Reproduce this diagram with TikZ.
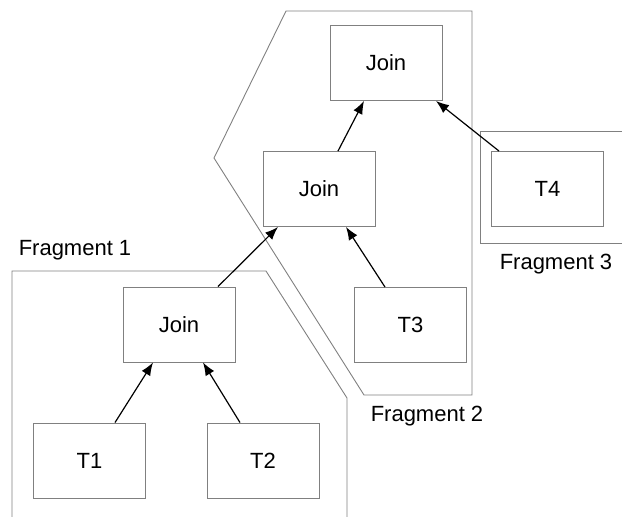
\documentclass[tikz,border=0pt]{standalone}
\usepackage{fontspec}
\setmainfont{Liberation Sans}
\usetikzlibrary{arrows.meta}
\begin{document}
\begin{tikzpicture}[x=1pt,y=-1pt,
  opbox/.style={draw=black!50, line width=0.9pt, minimum width=112pt, minimum height=75pt,
    inner sep=0pt, font=\fontsize{22}{26}\selectfont},
  frag/.style={draw=black!50, line width=0.9pt},
  fraglabel/.style={font=\fontsize{22}{26}\selectfont, inner sep=0pt},
  flow/.style={draw=black, line width=1.2pt, -{Latex[length=13pt,width=10pt]}}]
  \useasboundingbox (0,0) rectangle (622,517);

  % fragment outlines
  \draw[frag] (12,517) -- (12,271) -- (266,271) -- (347,398) -- (347,517);
  \draw[frag] (286,11) -- (472,11) -- (472,395) -- (364,395) -- (214,158) -- cycle;
  \draw[frag] (622,131) -- (480,131) -- (480,243) -- (622,243);

  % fragment labels
  \node[fraglabel] (f1) at (75,250) {Fragment 1};
  \node[fraglabel] (f2) at (427,416) {Fragment 2};
  \node[fraglabel] (f3) at (556,264) {Fragment 3};

  % operators
  \node[opbox] (jtop) at (386,63) {Join};
  \node[opbox] (jmid) at (319,189) {Join};
  \node[opbox] (jlow) at (179,324.5) {Join};
  \node[opbox] (t1) at (89.5,460.5) {T1};
  \node[opbox] (t2) at (263,460.5) {T2};
  \node[opbox] (t3) at (410.5,325) {T3};
  \node[opbox] (t4) at (547.5,189) {T4};

  % data flow
  \draw[flow] ([xshift=25.5pt]t1.north) -- ([xshift=-26pt]jlow.south);
  \draw[flow] ([xshift=-23pt]t2.north) -- ([xshift=24pt]jlow.south);
  \draw[flow] ([xshift=39pt]jlow.north) -- ([xshift=-41pt]jmid.south);
  \draw[flow] ([xshift=-25.5pt]t3.north) -- ([xshift=27pt]jmid.south);
  \draw[flow] ([xshift=19pt]jmid.north) -- ([xshift=-22pt]jtop.south);
  \draw[flow] ([xshift=-48.5pt]t4.north) -- ([xshift=50pt]jtop.south);
\end{tikzpicture}
\end{document}
